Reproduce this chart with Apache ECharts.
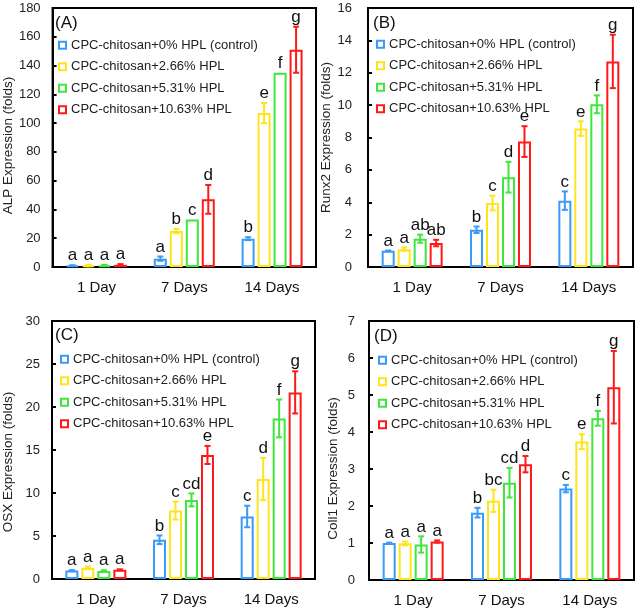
<!DOCTYPE html>
<html>
<head>
<meta charset="utf-8">
<script src="https://cdn.jsdelivr.net/npm/echarts@6/dist/echarts.min.js"></script>
<style>
html,body{margin:0;padding:0;background:#fff;}
#chart{width:638px;height:611px;}
</style>
</head>
<body>
<div id="chart"></div>
<script>
// ---------- data ----------
const categories = ['1 Day', '7 Days', '14 Days'];
const seriesNames = [
  'CPC-chitosan+0% HPL (control)',
  'CPC-chitosan+2.66% HPL',
  'CPC-chitosan+5.31% HPL',
  'CPC-chitosan+10.63% HPL'
];
const colors = ['#3a9af7', '#ffe41c', '#3ee63e', '#ff1a1a'];

// Panel A: ALP
const alpMean = [[1.0, 5.8, 19.7], [1.0, 25, 107], [1.2, 33, 135], [1.5, 47, 151]];
const alpErr = [[0.2, 1.5, 1], [0.5, 1.5, 7], [0.3, 0, 0], [0.5, 10, 16]];
const alpLetters = [['a', 'a', 'b'], ['a', 'b', 'e'], ['a', 'c', 'f'], ['a', 'd', 'g']];
const alpTicks = { min: 0, max: 180, interval: 20 };

// Panel B: Runx2
const runxMean = [[1.0, 2.3, 4.1], [1.1, 3.95, 8.55], [1.75, 5.55, 10.05], [1.48, 7.75, 12.7]];
const runxErr = [[0.02, 0.2, 0.57], [0.1, 0.45, 0.45], [0.25, 0.95, 0.55], [0.2, 0.95, 1.65]];
const runxLetters = [['a', 'b', 'c'], ['a', 'c', 'e'], ['ab', 'd', 'f'], ['ab', 'e', 'g']];
const runxTicks = { min: 0, max: 16, interval: 2 };

// Panel C: OSX
const osxMean = [[1.0, 4.56, 7.27], [1.3, 7.96, 11.63], [0.92, 9.2, 18.67], [1.08, 14.42, 21.7]];
const osxErr = [[0.02, 0.5, 1.25], [0.15, 1.05, 2.45], [0.1, 0.75, 2.2], [0.05, 1.05, 2.45]];
const osxLetters = [['a', 'b', 'c'], ['a', 'c', 'd'], ['a', 'cd', 'f'], ['a', 'e', 'g']];
const osxTicks = { min: 0, max: 30, interval: 5 };

// Panel D: Col1
const colMean = [[1.0, 1.82, 2.47], [0.99, 2.14, 3.74], [0.96, 2.63, 4.37], [1.04, 3.13, 5.21]];
const colErr = [[0.01, 0.13, 0.1], [0.05, 0.3, 0.2], [0.22, 0.4, 0.2], [0.03, 0.22, 0.98]];
const colLetters = [['a', 'b', 'c'], ['a', 'bc', 'e'], ['a', 'cd', 'f'], ['a', 'd', 'g']];
const colTicks = { min: 0, max: 7, interval: 1 };

const yNames = ['ALP Expression (folds)', 'Runx2 Expression (folds)', 'OSX Expression (folds)', 'Coll1 Expression (folds)'];
const panelTags = ['(A)', '(B)', '(C)', '(D)'];

// ---------- layout / style ----------
const FONT = 'Liberation Sans, Arial, sans-serif';
const BAR_W = 13, BAR_GAP = 0.23;
const PITCH = BAR_W * (1 + BAR_GAP);
const panels = [
  { mean: alpMean, err: alpErr, letters: alpLetters, ticks: alpTicks,
    grid: { left: 50, top: 8, width: 266, height: 259 }, labelMargin: 12, nameGap: 37, nameShift: 16,
    tag: [55, 15], legend: [58, 38] },
  { mean: runxMean, err: runxErr, letters: runxLetters, ticks: runxTicks,
    grid: { left: 368, top: 8, width: 265, height: 259 }, labelMargin: 16, nameGap: 33, nameShift: 0,
    tag: [373, 15], legend: [376, 37] },
  { mean: osxMean, err: osxErr, letters: osxLetters, ticks: osxTicks,
    grid: { left: 50, top: 321, width: 265, height: 258 }, labelMargin: 12, nameGap: 37, nameShift: 24,
    tag: [55, 327], legend: [60, 352] },
  { mean: colMean, err: colErr, letters: colLetters, ticks: colTicks,
    grid: { left: 369, top: 321, width: 265, height: 259 }, labelMargin: 14, nameGap: 29, nameShift: 36,
    tag: [374, 328], legend: [378, 353] }
];

const option = {
  animation: false,
  backgroundColor: '#fff',
  textStyle: { fontFamily: FONT },
  grid: [], xAxis: [], yAxis: [], series: [], legend: [], title: []
};

panels.forEach((p, g) => {
  option.grid.push(Object.assign({ show: true, borderColor: '#000', borderWidth: 2, backgroundColor: 'transparent' }, p.grid));
  option.xAxis.push({
    type: 'category', gridIndex: g, data: categories,
    axisLine: { lineStyle: { color: '#000', width: 2 } },
    axisTick: { show: false },
    axisLabel: { color: '#111', fontSize: 15, margin: 13, fontFamily: FONT }
  });
  option.yAxis.push({
    type: 'value', gridIndex: g, min: p.ticks.min, max: p.ticks.max, interval: p.ticks.interval,
    name: yNames[g], nameLocation: 'middle', nameGap: p.nameGap,
    nameTextStyle: { fontSize: 13.5, color: '#222', fontFamily: FONT, padding: [0, p.nameShift, 0, 0] },
    axisLine: { show: true, lineStyle: { color: '#000', width: 2 } },
    axisTick: { show: true, inside: true, length: 4, lineStyle: { color: '#000', width: 2 } },
    splitLine: { show: false },
    axisLabel: { color: '#222', fontSize: 13, margin: p.labelMargin, fontFamily: FONT }
  });
  option.title.push({
    text: panelTags[g], left: p.tag[0], top: p.tag[1], padding: 0,
    textStyle: { fontSize: 17, fontWeight: 'normal', color: '#111', fontFamily: FONT }
  });
  option.legend.push({
    orient: 'vertical', left: p.legend[0], top: p.legend[1], padding: 0,
    itemWidth: 7, itemHeight: 7, itemGap: 7,
    textStyle: { fontSize: 13, color: '#222', fontFamily: FONT, lineHeight: 14.5 },
    selectedMode: false,
    data: seriesNames.map((n, i) => ({
      name: n, icon: 'rect',
      itemStyle: { color: '#fff', borderColor: colors[i], borderWidth: 2 }
    }))
  });
  seriesNames.forEach((name, si) => {
    option.series.push({
      type: 'bar', name: name, xAxisIndex: g, yAxisIndex: g,
      data: p.mean[si], barWidth: BAR_W, barGap: (BAR_GAP * 100) + '%',
      itemStyle: { color: '#fff', borderColor: colors[si], borderWidth: 2 },
      z: 2
    });
  });
  seriesNames.forEach((name, si) => {
    const letters = p.letters[si];
    option.series.push({
      type: 'custom', xAxisIndex: g, yAxisIndex: g, z: 4, silent: true,
      encode: { x: 0, y: 1 },
      data: p.mean[si].map((m, ci) => [ci, m, p.err[si][ci]]),
      renderItem: function (params, api) {
        const ci = api.value(0), m = api.value(1), e = api.value(2);
        const base = api.coord([ci, m]);
        const x = base[0] + (si - 1.5) * PITCH;
        const yTop = api.coord([ci, m + e])[1];
        const yBot = api.coord([ci, m - e])[1];
        const children = [];
        const st = { stroke: colors[si], lineWidth: 2 };
        if (e > 0) {
          children.push({ type: 'line', shape: { x1: x, y1: yTop, x2: x, y2: yBot }, style: st });
          children.push({ type: 'line', shape: { x1: x - 3, y1: yTop, x2: x + 3, y2: yTop }, style: st });
          children.push({ type: 'line', shape: { x1: x - 3, y1: yBot, x2: x + 3, y2: yBot }, style: st });
        }
        children.push({
          type: 'text',
          style: {
            text: letters[params.dataIndex], x: x, y: Math.min(yTop, base[1]) - 1,
            align: 'center', verticalAlign: 'bottom',
            fontSize: 17, fontFamily: FONT, fill: '#111'
          }
        });
        return { type: 'group', children: children };
      }
    });
  });
});

const chart = echarts.init(document.getElementById('chart'), null, { renderer: 'canvas' });
chart.setOption(option);
</script>
</body>
</html>
